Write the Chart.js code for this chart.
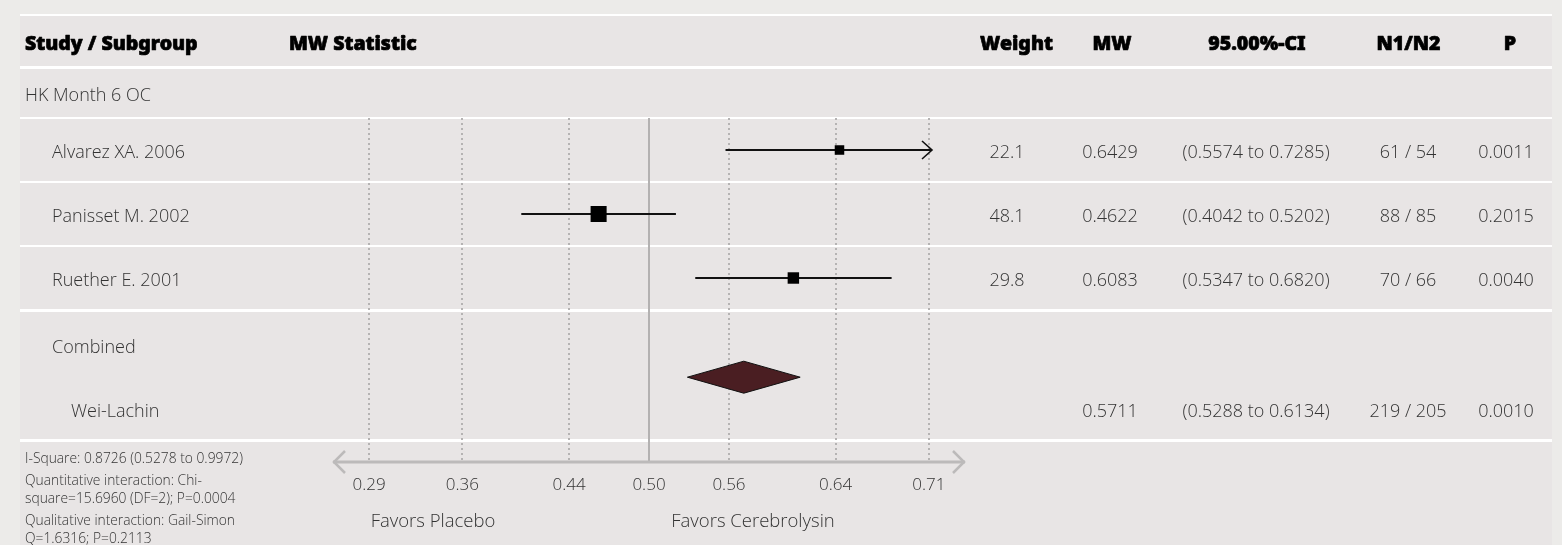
<!DOCTYPE html>
<html>
<head>
<meta charset="utf-8">
<title>MW Statistic forest plot</title>
<script src="https://cdn.jsdelivr.net/npm/chart.js@4.4.1/dist/chart.umd.min.js"></script>
<style>
  html, body { margin: 0; padding: 0; background: #ecebe9; }
  #wrap { width: 1562px; height: 545px; position: relative; }
</style>
</head>
<body>
<div id="wrap"><canvas id="forest" width="1562" height="545"></canvas></div>
<script>
// ---- study data ----
const subgroup = 'HK Month 6 OC';
const studies = ['Alvarez XA. 2006', 'Panisset M. 2002', 'Ruether E. 2001'];
const weights = [22.1, 48.1, 29.8];
const mwValues = [0.6429, 0.4622, 0.6083];
const ciLow = [0.5574, 0.4042, 0.5347];
const ciHigh = [0.7285, 0.5202, 0.6820];
const n1 = [61, 88, 70];
const n2 = [54, 85, 66];
const pValues = ['0.0011', '0.2015', '0.0040'];

// ---- pooled estimate ----
const pooledMethod = 'Wei-Lachin';
const pooledMw = 0.5711;
const pooledLow = 0.5288;
const pooledHigh = 0.6134;
const pooledN1 = 219;
const pooledN2 = 205;
const pooledP = '0.0010';

// ---- axis ticks (MW scale) ----
const tickValues = [0.29, 0.36, 0.44, 0.50, 0.56, 0.64, 0.71];
const tickLabels = ['0.29', '0.36', '0.44', '0.50', '0.56', '0.64', '0.71'];

// ---- header and notes ----
const headers = ['Study / Subgroup', 'MW Statistic', 'Weight', 'MW', '95.00%-CI', 'N1/N2', 'P'];
const notes = [
  ['I-Square: 0.8726 (0.5278 to 0.9972)'],
  ['Quantitative interaction: Chi-', 'square=15.6960 (DF=2); P=0.0004'],
  ['Qualitative interaction: Gail-Simon', 'Q=1.6316; P=0.2113']
];
const favorsLeft = 'Favors Placebo';
const favorsRight = 'Favors Cerebrolysin';

// plotted MW range, symmetric about the null value 0.5
const NULL_MW = 0.5;
const X_MIN = 0.2877;
const X_MAX = 0.7123;

// vertical layout in row units (one study row = 1 unit)
const studyRow = i => i + 0.5;
const HEADER_ROW = -1.19;
const SUBGROUP_ROW = -0.39;
const COMBINED_ROW = 3.55;
const DIAMOND_ROW = 4.05;
const POOLED_ROW = 4.55;
const Y_MAX = 5.375;
const SEPARATORS = [[-1.61, 2], [-0.8, 3], [0, 2], [1, 2], [2, 2], [3, 3], [5.03, 3]];

const BODY_FAMILY = '"Open Sans", "Noto Sans", sans-serif';
const BODY_FONT = '300 18px ' + BODY_FAMILY;
const BOLD_FONT = '900 19.5px "Noto Sans", "Open Sans", sans-serif';
const TEXT = '#333333';
const BASE = 8; // baseline offset below a row's centre

const forestTable = {
  id: 'forestTable',
  beforeDraw(chart) {
    const { ctx, scales: { y } } = chart;
    const W = chart.width, H = chart.height;
    ctx.save();
    ctx.fillStyle = '#ecebe9';
    ctx.fillRect(0, 0, W, H);
    ctx.fillStyle = '#e8e5e5';
    ctx.fillRect(20, 14, 1532, H - 14);

    // row separators
    ctx.fillStyle = '#ffffff';
    SEPARATORS.forEach(([v, w]) => {
      const py = Math.round(y.getPixelForValue(v));
      ctx.fillRect(20, py - Math.floor(w / 2), 1532, w);
    });

    ctx.textBaseline = 'alphabetic';

    // header (stroked as well, for a black weight)
    ctx.fillStyle = '#000';
    ctx.strokeStyle = '#000';
    ctx.lineWidth = 0.7;
    ctx.lineJoin = 'round';
    ctx.font = BOLD_FONT;
    const hy = y.getPixelForValue(HEADER_ROW) + BASE;
    const headerPos = [[25, 'left'], [289, 'left'], [1016.5, 'center'], [1112, 'center'], [1257, 'center'], [1408.5, 'center'], [1510, 'center']];
    headers.forEach((h, i) => {
      ctx.textAlign = headerPos[i][1];
      ctx.fillText(h, headerPos[i][0], hy);
      ctx.strokeText(h, headerPos[i][0], hy);
    });

    // body rows
    ctx.fillStyle = TEXT;
    ctx.font = BODY_FONT;
    ctx.textAlign = 'left';
    ctx.fillText(subgroup, 25, y.getPixelForValue(SUBGROUP_ROW) + BASE);
    const cols = (row, name, nameX, w, mw, lo, hi, a, b, p) => {
      const py = y.getPixelForValue(row) + BASE;
      ctx.textAlign = 'left';
      ctx.fillText(name, nameX, py);
      ctx.textAlign = 'center';
      if (w !== null) ctx.fillText(w.toFixed(1), 1007, py);
      ctx.fillText(mw.toFixed(4), 1110, py);
      ctx.fillText('(' + lo.toFixed(4) + ' to ' + hi.toFixed(4) + ')', 1256, py);
      ctx.fillText(a + ' / ' + b, 1408, py);
      ctx.fillText(p, 1506, py);
    };
    studies.forEach((s, i) => cols(studyRow(i), s, 52, weights[i], mwValues[i], ciLow[i], ciHigh[i], n1[i], n2[i], pValues[i]));
    ctx.textAlign = 'left';
    ctx.fillText('Combined', 52, y.getPixelForValue(COMBINED_ROW) + BASE);
    cols(POOLED_ROW, pooledMethod, 71, null, pooledMw, pooledLow, pooledHigh, pooledN1, pooledN2, pooledP);

    // notes under the table
    ctx.font = '300 13.8px ' + BODY_FAMILY;
    ctx.textAlign = 'left';
    let ny = 463;
    notes.forEach(para => {
      para.forEach(line => {
        ctx.fillText(line, 25, ny);
        ny += 18;
      });
      ny += 4;
    });

    // direction labels
    ctx.font = '300 18.5px ' + BODY_FAMILY;
    ctx.textAlign = 'center';
    ctx.fillText(favorsLeft, 433, 527);
    ctx.fillText(favorsRight, 753, 527);
    ctx.restore();
  },
  beforeDatasetsDraw(chart) {
    // solid line at the null value
    const { ctx, chartArea, scales: { x } } = chart;
    const px = x.getPixelForValue(NULL_MW);
    ctx.save();
    ctx.strokeStyle = '#b3b1b1';
    ctx.lineWidth = 2;
    ctx.beginPath();
    ctx.moveTo(px, chartArea.top);
    ctx.lineTo(px, chartArea.bottom);
    ctx.stroke();
    ctx.restore();
  },
  afterDatasetsDraw(chart) {
    const { ctx, chartArea, scales: { x, y } } = chart;
    ctx.save();
    // arrows for intervals running past the plotted range
    ctx.strokeStyle = '#111';
    ctx.lineWidth = 1.6;
    studies.forEach((s, i) => {
      const py = y.getPixelForValue(studyRow(i));
      if (ciHigh[i] > X_MAX) {
        const tip = chartArea.right;
        ctx.beginPath();
        ctx.moveTo(tip - 10, py - 9);
        ctx.lineTo(tip, py);
        ctx.lineTo(tip - 10, py + 9);
        ctx.stroke();
      }
      if (ciLow[i] < X_MIN) {
        const tip = chartArea.left;
        ctx.beginPath();
        ctx.moveTo(tip + 10, py - 9);
        ctx.lineTo(tip, py);
        ctx.lineTo(tip + 10, py + 9);
        ctx.stroke();
      }
    });

    // pooled diamond
    const dy = y.getPixelForValue(DIAMOND_ROW);
    const xl = x.getPixelForValue(pooledLow);
    const xc = x.getPixelForValue(pooledMw);
    const xr = x.getPixelForValue(pooledHigh);
    ctx.beginPath();
    ctx.moveTo(xl, dy);
    ctx.lineTo(xc, dy - 16);
    ctx.lineTo(xr, dy);
    ctx.lineTo(xc, dy + 16);
    ctx.closePath();
    ctx.fillStyle = '#4a1e22';
    ctx.fill();
    ctx.strokeStyle = '#111';
    ctx.lineWidth = 1;
    ctx.stroke();

    // horizontal axis with arrowheads
    const ay = chartArea.bottom;
    const left = chartArea.left - 33, right = chartArea.right + 33;
    ctx.strokeStyle = '#bcbaba';
    ctx.lineWidth = 3;
    ctx.beginPath();
    ctx.moveTo(left, ay);
    ctx.lineTo(right, ay);
    ctx.stroke();
    ctx.lineWidth = 2.5;
    ctx.beginPath();
    ctx.moveTo(left + 12, ay - 11);
    ctx.lineTo(left + 1, ay);
    ctx.lineTo(left + 12, ay + 11);
    ctx.moveTo(right - 12, ay - 11);
    ctx.lineTo(right - 1, ay);
    ctx.lineTo(right - 12, ay + 11);
    ctx.stroke();
    ctx.restore();
  }
};

const ciDatasets = studies.map((s, i) => ({
  type: 'line',
  label: s + ' CI',
  data: [{ x: ciLow[i], y: studyRow(i) }, { x: ciHigh[i], y: studyRow(i) }],
  borderColor: '#111',
  borderWidth: 2,
  pointRadius: 0,
  order: 2
}));

// box side grows with study weight
const boxRadius = weights.map(w => (4 + 0.25 * w) / (2 * Math.SQRT1_2));

const boxDataset = {
  type: 'scatter',
  label: 'MW',
  data: mwValues.map((v, i) => ({ x: v, y: studyRow(i) })),
  pointStyle: 'rect',
  pointRadius: boxRadius,
  pointHoverRadius: boxRadius,
  backgroundColor: '#000',
  borderWidth: 0,
  order: 1
};

new Chart(document.getElementById('forest'), {
  type: 'scatter',
  data: { datasets: [...ciDatasets, boxDataset] },
  options: {
    responsive: false,
    animation: false,
    events: [],
    layout: { padding: { left: 366, right: 630, top: 118, bottom: 43 } },
    plugins: { legend: { display: false }, tooltip: { enabled: false } },
    scales: {
      x: {
        type: 'linear',
        min: X_MIN,
        max: X_MAX,
        afterBuildTicks: scale => { scale.ticks = tickValues.map(v => ({ value: v })); },
        afterFit: scale => { scale.height = 40; },
        ticks: {
          callback: (value, index) => tickLabels[index],
          color: TEXT,
          font: { family: BODY_FAMILY, size: 17, weight: '300' },
          padding: 13,
          maxRotation: 0,
          autoSkip: false
        },
        grid: { color: '#b5b3b3', lineWidth: 2, drawTicks: false },
        border: { display: false, dash: [2, 3] }
      },
      y: {
        type: 'linear',
        display: false,
        reverse: true,
        min: 0,
        max: Y_MAX
      }
    }
  },
  plugins: [forestTable]
});
</script>
</body>
</html>
